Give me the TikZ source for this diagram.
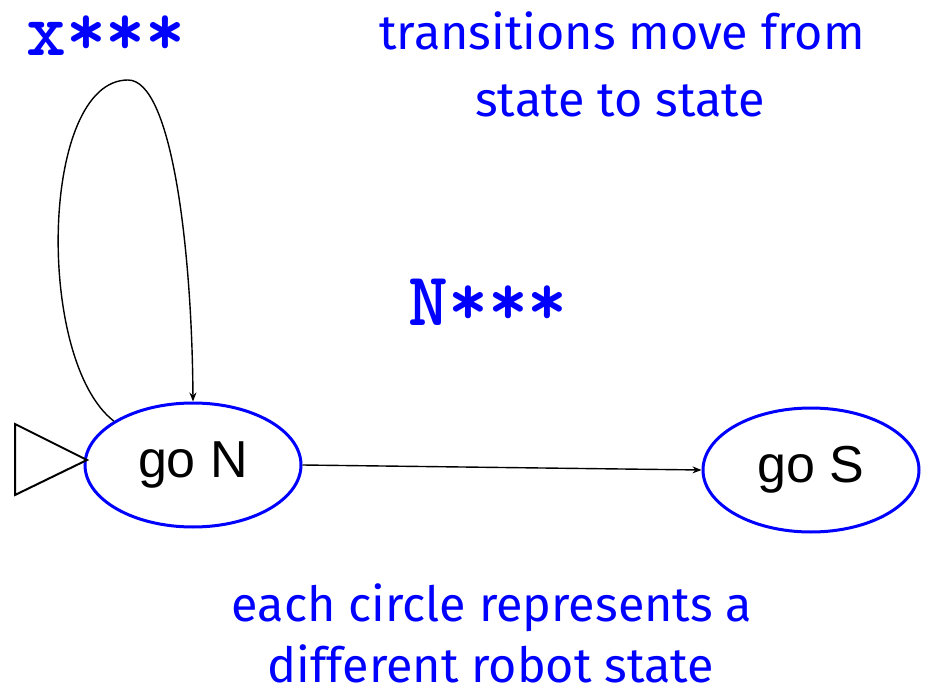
\documentclass[tikz,border=0pt]{standalone}
\usepackage{fontspec}
\setmainfont{Liberation Sans}
\newfontfamily\notefont{Fira Sans}
\usetikzlibrary{arrows.meta,shapes.geometric}
\definecolor{pblue}{RGB}{0,0,255}
\tikzset{
  statebox/.style={ellipse,draw=pblue,line width=3pt,minimum width=216pt,minimum height=124pt,inner sep=0pt,font=\fontsize{52}{52}\selectfont},
  link/.style={draw=black,line width=1.4pt,-{Stealth[length=9pt,width=7pt]}},
  note/.style={text=pblue,anchor=base,inner sep=0pt,font=\notefont\fontsize{48.5}{60}\selectfont},
  code/.style={text=pblue,font=\ttfamily\bfseries\fontsize{76}{76}\selectfont,inner sep=0pt,anchor=base west}
}
\begin{document}
\begin{tikzpicture}[x=1pt,y=-1pt]
\useasboundingbox (0,0) rectangle (930,695);
\node[statebox] (goN) at (193,465) {go N};
\node[statebox] (goS) at (811,470) {go S};
\coordinate (tip) at (87,460);
\coordinate (tt) at (15,424);
\coordinate (tb) at (15,495);
\draw[line width=2pt,line join=miter] (tip) -- (tt) -- (tb) -- cycle;
\draw[link] (goN.east) -- (goS.west);
\draw[link] (goN.151) .. controls (35,360) and (40,80) .. (128,80) .. controls (172,80) and (192,250) .. (goN.north);
\node[code] (xlab) at (26,56) {x***};
\node[code] (nlab) at (408,326) {N***};
\node[note] (top1) at (622,50) {transitions move from};
\node[note] (top2) at (620,117) {state to state};
\node[note] (bot1) at (492,621) {each circle represents a};
\node[note] (bot2) at (491,682) {different robot state};
\end{tikzpicture}
\end{document}
